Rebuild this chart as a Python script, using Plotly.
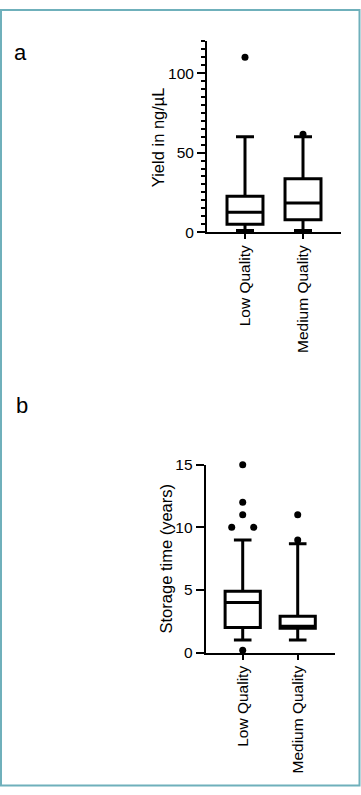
import plotly.graph_objects as go
from collections import Counter

# ---------------- data ----------------
categories = ["Low Quality", "Medium Quality"]

# Panel a: Yield in ng/µL
yield_lowerfence = [1.0, 1.0]
yield_q1 = [5.0, 7.8]
yield_median = [12.5, 18.3]
yield_q3 = [22.5, 33.6]
yield_upperfence = [60.0, 60.0]
yield_outliers = [[110.0], [61.5]]

# Panel b: Storage time (years)
storage_lowerfence = [1.0, 1.0]
storage_q1 = [2.0, 1.95]
storage_median = [4.0, 2.1]
storage_q3 = [4.9, 2.9]
storage_upperfence = [9.0, 8.7]
storage_outliers = [[0.2, 10, 10, 11, 12, 15], [9, 11]]

FONT = "Arial, Liberation Sans, sans-serif"
W, H = 361, 795

fig = go.Figure()


def dodge(values, step=0.4):
    """Spread identical values horizontally, centred on the box."""
    counts = Counter(values)
    seen = Counter()
    offs = []
    for v in values:
        n = counts[v]
        k = seen[v]
        seen[v] += 1
        offs.append((k - (n - 1) / 2) * step)
    return offs


def add_panel(xa, ya, lf, q1, med, q3, uf, outliers, width):
    for i, cat in enumerate(categories):
        fig.add_trace(go.Box(
            x=[i], q1=[q1[i]], median=[med[i]], q3=[q3[i]],
            lowerfence=[lf[i]], upperfence=[uf[i]],
            width=width, whiskerwidth=0.5,
            line=dict(color="black", width=3), fillcolor="white",
            boxpoints=False, hoverinfo="skip", showlegend=False,
            xaxis=xa, yaxis=ya, name=cat,
        ))
        offs = dodge(outliers[i])
        fig.add_trace(go.Scatter(
            x=[i + o for o in offs], y=outliers[i], mode="markers",
            marker=dict(color="black", size=7), hoverinfo="skip",
            showlegend=False, xaxis=xa, yaxis=ya, cliponaxis=False,
        ))


add_panel("x", "y", yield_lowerfence, yield_q1, yield_median, yield_q3,
          yield_upperfence, yield_outliers, 0.62)
add_panel("x2", "y2", storage_lowerfence, storage_q1, storage_median,
          storage_q3, storage_upperfence, storage_outliers, 0.64)

xaxis_common = dict(
    tickmode="array", tickvals=[0, 1], ticktext=categories, tickangle=-90,
    showline=True, linecolor="black", linewidth=2, ticks="outside",
    ticklen=5, tickwidth=2, tickcolor="black", showgrid=False,
    zeroline=False, fixedrange=True,
    tickfont=dict(family=FONT, size=15.5, color="black"),
)
yaxis_common = dict(
    showline=True, linecolor="black", linewidth=2, ticks="outside",
    ticklen=8, tickwidth=2, tickcolor="black", showgrid=False,
    zeroline=False, fixedrange=True,
    tickfont=dict(family=FONT, size=15.5, color="black"),
)


def ann(text, x, y, size, angle=0):
    return dict(text=text, textangle=angle, x=x / W, y=1 - y / H,
                xref="paper", yref="paper", xanchor="center",
                yanchor="middle", showarrow=False,
                font=dict(family=FONT, size=size, color="black"))


fig.update_layout(
    width=W, height=H, margin=dict(l=0, r=0, t=0, b=0),
    paper_bgcolor="white", plot_bgcolor="white", showlegend=False,
    xaxis=dict(domain=[207 / W, 341 / W], range=[-0.655, 1.655],
               anchor="y", **xaxis_common),
    yaxis=dict(domain=[1 - 228 / H, 1 - 33 / H], range=[0, 120],
               tickvals=[0, 50, 100], anchor="x",
               minor=dict(dtick=5, ticks="outside", ticklen=4,
                          tickwidth=2, tickcolor="black", showgrid=False),
               **yaxis_common),
    xaxis2=dict(domain=[205.7 / W, 335 / W], range=[-0.673, 1.678],
                anchor="y2", **xaxis_common),
    yaxis2=dict(domain=[1 - 657.7 / H, 1 - 465.7 / H], range=[0, 15],
                tickvals=[0, 5, 10, 15], anchor="x2", **yaxis_common),
    annotations=[
        ann("Yield in ng/µL", 158, 131, 16.5, -90),
        ann("Storage time (years)", 166, 562.5, 16.5, -90),
        ann("a", 20.5, 44.5, 22),
        ann("b", 22, 405.5, 22),
    ],
    shapes=[
        dict(type="rect", xref="paper", yref="paper",
             x0=1 / W, x1=1 - 1.5 / W, y0=1.5 / H, y1=1 - 1 / H,
             line=dict(color="#6fb0bb", width=2), fillcolor="rgba(0,0,0,0)",
             layer="above"),
    ],
)

fig.write_html("out.html", config={"displayModeBar": False})
